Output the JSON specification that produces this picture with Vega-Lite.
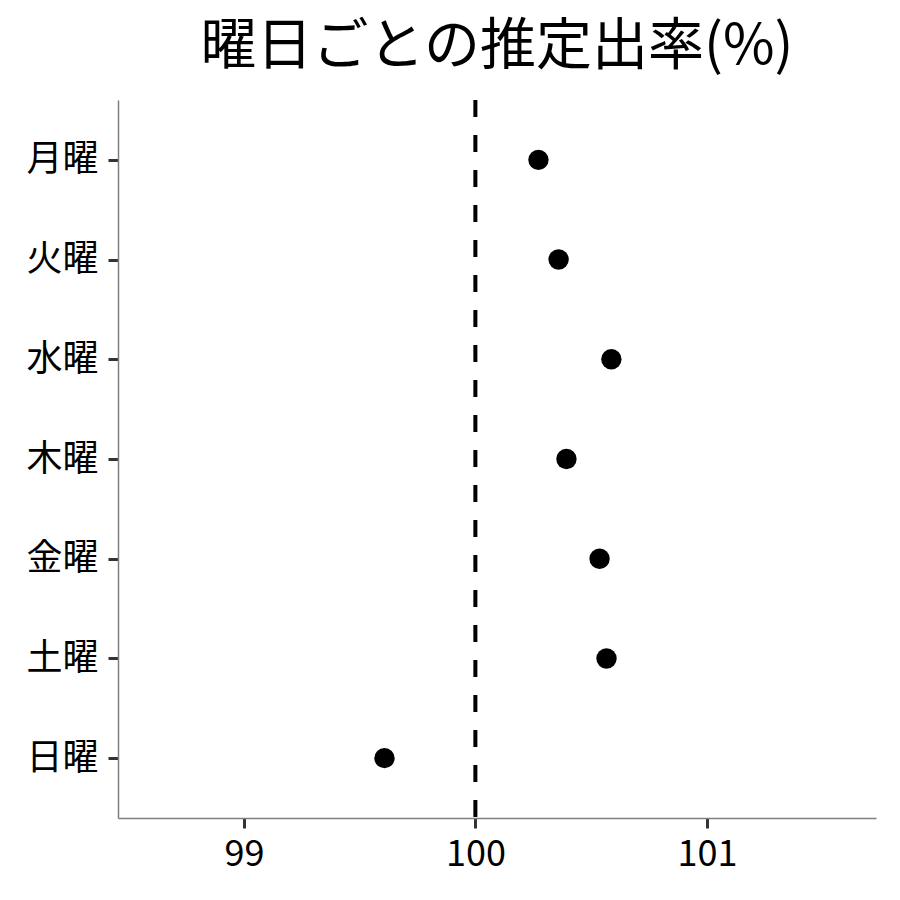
{
  "$schema": "https://vega.github.io/schema/vega-lite/v6.json",
  "autosize": "none",
  "width": 758,
  "height": 718,
  "padding": {"left": 118, "top": 100, "right": 24, "bottom": 82},
  "background": "white",
  "config": {
    "view": {"stroke": null},
    "font": "Noto Sans CJK JP"
  },
  "title": {
    "text": "曜日ごとの推定出率(%)",
    "fontSize": 56,
    "fontWeight": "normal",
    "color": "black",
    "anchor": "middle",
    "font": "Noto Sans CJK JP",
    "offset": 22
  },
  "data": {
    "values": [
      {"day": "月曜", "rate": 100.272},
      {"day": "火曜", "rate": 100.359},
      {"day": "水曜", "rate": 100.587},
      {"day": "木曜", "rate": 100.393},
      {"day": "金曜", "rate": 100.536},
      {"day": "土曜", "rate": 100.566},
      {"day": "日曜", "rate": 99.607}
    ]
  },
  "layer": [
    {
      "mark": {"type": "rule", "strokeDash": [17, 18], "strokeWidth": 3.2, "color": "black"},
      "encoding": {"x": {"datum": 100, "type": "quantitative"}}
    },
    {
      "mark": {"type": "point", "filled": true, "color": "black", "size": 415, "opacity": 1},
      "encoding": {
        "x": {
          "field": "rate",
          "type": "quantitative",
          "scale": {"domain": [98.456, 101.73], "nice": false, "zero": false},
          "axis": {
            "title": null,
            "values": [99, 100, 101],
            "format": "d",
            "grid": false,
            "domainColor": "#7f7f7f",
            "domainWidth": 1.5,
            "tickColor": "#333333",
            "tickWidth": 3,
            "tickSize": 10,
            "labelFontSize": 36,
            "labelColor": "black",
            "labelPadding": 9,
            "labelFont": "Noto Sans CJK JP"
          }
        },
        "y": {
          "field": "day",
          "type": "nominal",
          "sort": ["月曜", "火曜", "水曜", "木曜", "金曜", "土曜", "日曜"],
          "scale": {"type": "point", "padding": 0.6},
          "axis": {
            "title": null,
            "grid": false,
            "domainColor": "#7f7f7f",
            "domainWidth": 1.5,
            "tickColor": "#333333",
            "tickWidth": 3,
            "tickSize": 10,
            "labelFontSize": 36,
            "labelColor": "black",
            "labelPadding": 10,
            "labelFont": "Noto Sans CJK JP"
          }
        }
      }
    }
  ]
}
